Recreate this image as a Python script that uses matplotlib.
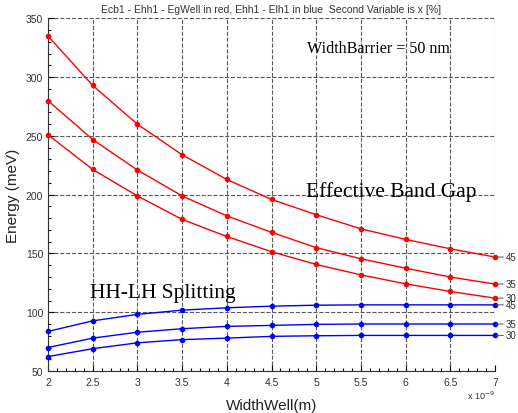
import matplotlib

matplotlib.use("Agg")
import matplotlib.pyplot as plt
from matplotlib.ticker import MultipleLocator

# well width in units of 1e-9 m
width_well = [2, 2.5, 3, 3.5, 4, 4.5, 5, 5.5, 6, 6.5, 7]
x_labels = ["45", "35", "30"]

# Ecb1 - Ehh1 - EgWell (red), for x = 45, 35, 30 %
gap_45 = [335, 293, 260, 234, 213, 196, 183, 171, 162, 154, 147]
gap_35 = [280, 247, 221, 199, 182, 168, 155, 145.5, 137.5, 130, 124]
gap_30 = [251, 221.5, 199, 179, 164.5, 151.5, 140.7, 131.8, 124.2, 117.7, 112]

# Ehh1 - Elh1 (blue)
split_45 = [83.7, 92.7, 98.2, 101.8, 103.8, 105.2, 106, 106.3, 106.3, 106.3, 106.3]
split_35 = [70, 78, 83, 86, 88, 88.8, 89.7, 90, 90, 90, 90]
split_30 = [62.3, 69, 74, 76.7, 78, 79.5, 80, 80.3, 80.3, 80.3, 80.3]

plt.rcParams["font.family"] = ["Liberation Sans", "DejaVu Sans"]

fig = plt.figure(figsize=(5.18, 4.14), dpi=100)
ax = fig.add_axes([0.0927, 0.1014, 0.8629, 0.8516])

for series in (gap_45, gap_35, gap_30):
    ax.plot(width_well, series, color="red", lw=1.0, marker="o", ms=3,
            mfc="red", mec="red", clip_on=False, zorder=3)
for series in (split_45, split_35, split_30):
    ax.plot(width_well, series, color="blue", lw=1.0, marker="o", ms=3,
            mfc="blue", mec="blue", clip_on=False, zorder=3)

# end-of-curve labels
for series_group in ((gap_45, gap_35, gap_30), (split_45, split_35, split_30)):
    for series, lab in zip(series_group, x_labels):
        ax.annotate(lab, xy=(width_well[-1], series[-1]), xytext=(8, 0),
                    textcoords="offset points", ha="left", va="center",
                    fontsize=7, color="#333333", annotation_clip=False,
                    arrowprops=dict(arrowstyle="-", color="#555555", lw=0.7,
                                    shrinkA=0, shrinkB=1))

ax.set_xlim(2, 7)
ax.set_ylim(50, 350)
ax.xaxis.set_major_locator(MultipleLocator(0.5))
ax.xaxis.set_minor_locator(MultipleLocator(0.1))
ax.yaxis.set_major_locator(MultipleLocator(50))
ax.yaxis.set_minor_locator(MultipleLocator(10))
ax.xaxis.set_major_formatter(plt.FuncFormatter(lambda v, p: f"{v:g}"))
ax.tick_params(axis="both", which="major", labelsize=7.5, labelcolor="#333333",
               length=4, width=0.8, direction="in")
ax.tick_params(axis="both", which="minor", length=2.5, width=0.8, direction="in")
ax.tick_params(axis="x", pad=4)

ax.grid(True, which="major", linestyle="--", color="0.35", lw=0.8)
ax.spines["top"].set_visible(False)
ax.spines["right"].set_visible(False)
ax.spines["left"].set_color("#333333")
ax.spines["bottom"].set_color("#333333")

ax.set_title("Ecb1 - Ehh1 - EgWell in red, Ehh1 - Elh1 in blue  Second Variable is x [%]",
             fontsize=7.5, color="#333333", pad=5)
ax.set_xlabel("WidthWell(m)", fontsize=11, color="#222222", labelpad=8)
ax.set_ylabel("Energy (meV)", fontsize=11, color="#222222", labelpad=4)
ax.text(1.0, -0.05, r"x 10$^{-9}$", transform=ax.transAxes, ha="right",
        va="top", fontsize=6.5, color="#333333")

serif = ["Liberation Serif", "DejaVu Serif"]
ax.text(4.9, 325, "WidthBarrier = 50 nm", family=serif, fontsize=11.6, va="center")
ax.text(4.886, 203, "Effective Band Gap", family=serif, fontsize=15.5, va="center")
ax.text(2.47, 117, "HH-LH Splitting", family=serif, fontsize=15.5, va="center")

fig.savefig("out.png", dpi=100)
